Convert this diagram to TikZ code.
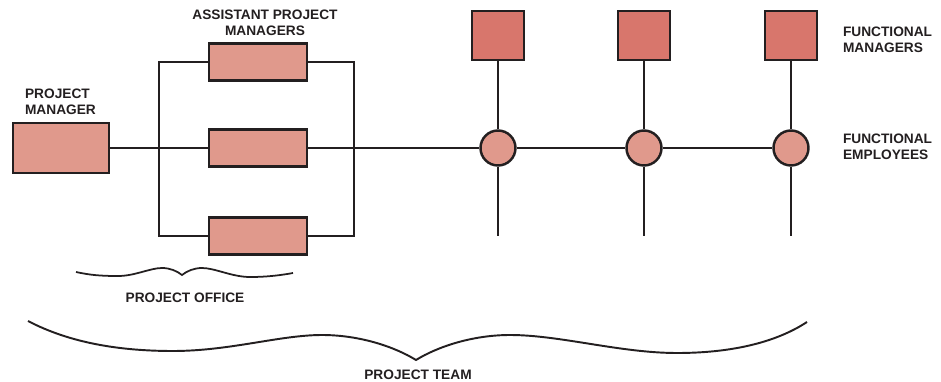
\documentclass[tikz,border=0pt]{standalone}
\usepackage{fontspec}
\setmainfont{Liberation Sans}
\usetikzlibrary{positioning}
\definecolor{boxsalmon}{RGB}{224,153,140}
\definecolor{funcred}{RGB}{216,118,108}
\definecolor{inkline}{RGB}{35,31,32}

\begin{document}
\begin{tikzpicture}[
                    x=0.02cm, y=-0.02cm,
                    line width=1.2pt, draw=inkline,
                    heading/.style={font=\bfseries\fontsize{7.8}{9}\selectfont, align=center, inner sep=0pt, text=inkline},
                    pmbox/.style={draw=inkline, line width=1.4pt, fill=boxsalmon, minimum width=1.92cm, minimum height=1cm, inner sep=0pt},
                    apmbox/.style={draw=inkline, line width=1.4pt, fill=boxsalmon, minimum width=1.96cm, minimum height=0.74cm, inner sep=0pt},
                    fmbox/.style={draw=inkline, line width=1.4pt, fill=funcred, minimum width=1.04cm, minimum height=0.98cm, inner sep=0pt},
                    febox/.style={draw=inkline, line width=1.4pt, fill=boxsalmon, circle, minimum size=0.7cm, inner sep=0pt},
                ]
                    \useasboundingbox (0,0) rectangle (941,382);

                    % project manager and assistants
                    \node[pmbox] (pm) at (61,148) {};
                    \node[heading, align=left, anchor=west] (pmlabel) at (24,102) {PROJECT\\MANAGER};

                    \node[apmbox] (apm1) at (258,62) {};
                    \node[apmbox] (apm2) at (258,148) {};
                    \node[apmbox] (apm3) at (258,236) {};
                    \node[heading] (apmlabel) at (265,23) {ASSISTANT PROJECT\\MANAGERS};

                    % functional managers and employees
                    \node[fmbox] (fm1) at (498,35.5) {};
                    \node[fmbox] (fm2) at (644,35.5) {};
                    \node[fmbox] (fm3) at (791,35.5) {};
                    \node[febox] (fe1) at (498,148) {};
                    \node[febox] (fe2) at (644,148) {};
                    \node[febox] (fe3) at (791,148) {};
                    \coordinate (end1) at (498,236);
                    \coordinate (end2) at (644,236);
                    \coordinate (end3) at (791,236);

                    \node[heading, align=left, anchor=west] (fmlabel) at (842,39.5) {FUNCTIONAL\\MANAGERS};
                    \node[heading, align=left, anchor=west] (felabel) at (842,147) {FUNCTIONAL\\EMPLOYEES};

                    % connectors
                    \draw (pm) -- (apm2);
                    \draw (apm1.west) -- ++(-49,0) |- (apm3.west);
                    \draw (apm1.east) -- ++(46,0) |- (apm3.east);
                    \draw (apm2) -- (fe1) -- (fe2) -- (fe3);
                    \draw (fm1) -- (fe1) -- (end1);
                    \draw (fm2) -- (fe2) -- (end2);
                    \draw (fm3) -- (fe3) -- (end3);

                    % braces
                    \draw[line width=1pt] (76,272) .. controls (90,275) and (100,276) .. (118,276)
                        .. controls (135,276) and (150,268) .. (162,268)
                        .. controls (170,268) and (177,271) .. (182,275)
                        .. controls (187,271) and (194,268) .. (202,268)
                        .. controls (215,268) and (232,277) .. (250,277)
                        .. controls (268,277) and (282,275) .. (293,273);
                    \node[heading] (office) at (185,298) {PROJECT OFFICE};

                    \draw[line width=1.1pt] (28,321) .. controls (70,343) and (120,351) .. (173,351)
                        .. controls (230,351) and (280,335) .. (322,335)
                        .. controls (360,335) and (395,347) .. (416,360)
                        .. controls (437,347) and (472,335) .. (510,335)
                        .. controls (560,335) and (620,353) .. (677,353)
                        .. controls (730,353) and (775,343) .. (807,322);
                    \node[heading] (team) at (418,375) {PROJECT TEAM};
                \end{tikzpicture}
\end{document}
